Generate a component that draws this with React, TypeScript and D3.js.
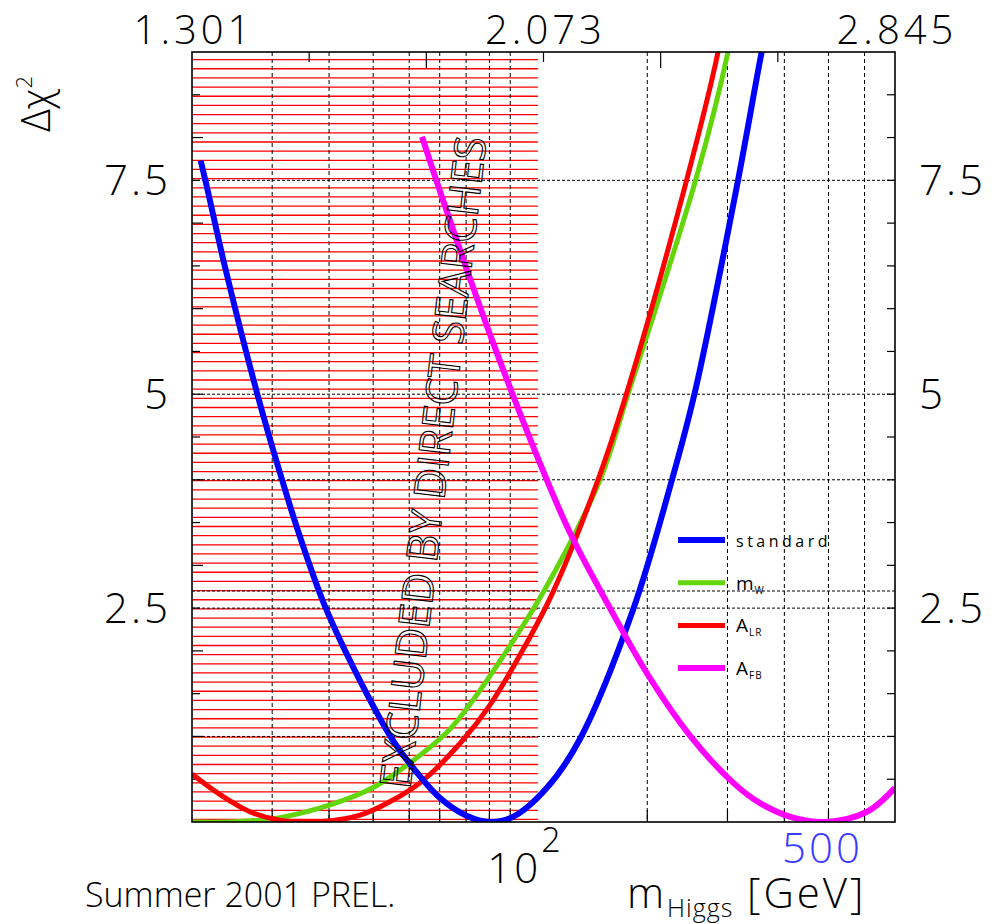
import React, { useEffect, useRef } from "react";
import * as d3 from "d3";

// Higgs mass fits, summer 2001
const stdMass = [20.9, 21.7, 23.6, 27.9, 31.7, 34.5, 39.2, 46.8, 55.3, 60.2, 70.1, 80.4, 90.3, 101.4, 120.4, 142.3, 186.1, 226.6, 254.6, 313.3, 353.7, 372.0];
const stdChi2 = [7.73, 7.36, 6.50, 4.98, 3.96, 3.34, 2.52, 1.65, 0.95, 0.68, 0.28, 0.07, 0.0, 0.06, 0.40, 0.97, 2.48, 4.0, 5.03, 7.38, 8.9, 9.5];

const mwMass = [20.0, 24.2, 28.2, 31.2, 40.2, 49.9, 60.2, 72.6, 79.6, 94.9, 119.2, 157.5, 181.4, 255.9, 300.8, 320.0];
const mwChi2 = [0.0, 0.0, 0.02, 0.05, 0.20, 0.40, 0.69, 1.05, 1.30, 1.88, 2.72, 4.0, 5.0, 7.52, 9.0, 9.8];

const alrMass = [20.0, 23.05, 26.8, 31.2, 35.4, 41.2, 48.0, 63.4, 77.6, 90.3, 108.9, 124.2, 155.9, 178.7, 242.0, 286.0, 305.0];
const alrChi2 = [0.56, 0.32, 0.12, 0.02, 0.0, 0.02, 0.10, 0.46, 0.92, 1.37, 2.10, 2.69, 4.0, 4.95, 7.43, 9.0, 9.9];

const afbMass = [64.0, 69.1, 80.4, 91.7, 116.3, 135.3, 165.6, 202.8, 248.2, 308.6, 353.7, 417.9, 493.7, 607.6, 700.0];
const afbChi2 = [8.01, 7.47, 6.45, 5.60, 4.19, 3.38, 2.50, 1.68, 1.01, 0.46, 0.22, 0.05, 0.0, 0.12, 0.40];

const excludedLimit = 115; // GeV, direct searches
const gridChi2 = [1, 2.5, 2.7, 4, 5, 7.5];
const yTickLabels = ["2.5", "5", "7.5"];
const gridMass = [30, 40, 50, 60, 70, 80, 90, 100, 200, 300, 400, 500, 600];
const topTickLabels = ["1.301", "2.073", "2.845"];

const legendNames = [["standard", ""], ["m", "W"], ["A", "LR"], ["A", "FB"]];
const colors = ["#0000ff", "#62d60a", "#ff0000", "#ff00ff"];
const widths = [6, 5, 5, 6];

const FONT = "'Open Sans', 'Liberation Sans', sans-serif";

export default function App() {
  const ref = useRef<SVGSVGElement>(null);

  useEffect(() => {
    const svg = d3.select(ref.current);
    svg.selectAll("*").remove();

    const left = 192, right = 895, top = 52, bottom = 822;
    const x = d3.scaleLog().domain([20, 700]).range([left, right]);
    const y = d3.scaleLinear().domain([0, 9]).range([bottom, top]);
    const lo = Math.log10(20), hi = Math.log10(700);
    const xTop = d3.scaleLinear().domain([lo, hi]).range([left, right]);

    svg.append("defs").append("clipPath").attr("id", "plotclip")
      .append("rect").attr("x", left).attr("y", top)
      .attr("width", right - left).attr("height", bottom - top);

    // excluded region, red hatching
    svg.append("g").selectAll("line")
      .data(d3.range(0.03, 8.95, 0.107))
      .join("line")
      .attr("x1", left).attr("x2", x(excludedLimit))
      .attr("y1", d => y(d)).attr("y2", d => y(d))
      .attr("stroke", "#ff0000").attr("stroke-width", 1.3);

    // grid
    svg.append("g").selectAll("line")
      .data(gridChi2).join("line")
      .attr("x1", left).attr("x2", right)
      .attr("y1", d => y(d)).attr("y2", d => y(d))
      .attr("stroke", "#000").attr("stroke-width", 1)
      .attr("stroke-dasharray", "3,2");

    svg.append("g").selectAll("line")
      .data(gridMass).join("line")
      .attr("x1", d => x(d)).attr("x2", d => x(d))
      .attr("y1", top).attr("y2", bottom)
      .attr("stroke", "#000").attr("stroke-width", 1)
      .attr("stroke-dasharray", "4,3");

    // bottom ticks (solid)
    svg.append("g").selectAll("line")
      .data(gridMass).join("line")
      .attr("x1", d => x(d)).attr("x2", d => x(d))
      .attr("y1", bottom).attr("y2", bottom - 12)
      .attr("stroke", "#000").attr("stroke-width", 1.2);

    // side ticks every 0.5
    const half = d3.range(0.5, 9, 0.5);
    svg.append("g").selectAll("line")
      .data(half).join("line")
      .attr("x1", left).attr("x2", d => left + (d % 1 === 0 ? 11 : 8))
      .attr("y1", d => y(d)).attr("y2", d => y(d))
      .attr("stroke", "#000").attr("stroke-width", 1.2);
    svg.append("g").selectAll("line")
      .data(half).join("line")
      .attr("x1", right).attr("x2", right - 8)
      .attr("y1", d => y(d)).attr("y2", d => y(d))
      .attr("stroke", "#000").attr("stroke-width", 1.2);

    // top ticks, log10 scale
    svg.append("g").selectAll("line")
      .data(d3.range(1, 6)).join("line")
      .attr("x1", i => xTop(lo + i * (hi - lo) / 6))
      .attr("x2", i => xTop(lo + i * (hi - lo) / 6))
      .attr("y1", top).attr("y2", i => top + (i % 2 === 0 ? 16 : 10))
      .attr("stroke", "#000").attr("stroke-width", 1.2);

    // curves
    const series = [
      [stdMass, stdChi2],
      [mwMass, mwChi2],
      [alrMass, alrChi2],
      [afbMass, afbChi2],
    ];
    const line = d3.line<[number, number]>()
      .x(d => x(d[0])).y(d => y(d[1]))
      .curve(d3.curveCatmullRom.alpha(0.5));
    const curves = svg.append("g").attr("clip-path", "url(#plotclip)");
    // draw order: green, red, blue, magenta
    [1, 2, 0, 3].forEach(i => {
      const pts = series[i][0].map((m, k) => [m, series[i][1][k]] as [number, number]);
      curves.append("path")
        .attr("d", line(pts))
        .attr("fill", "none")
        .attr("stroke", colors[i])
        .attr("stroke-width", widths[i])
        .attr("stroke-linejoin", "round");
    });

    // excluded label, outlined and tilted
    svg.append("text")
      .attr("transform", "translate(410,790) rotate(-83.3)")
      .attr("font-family", FONT)
      .attr("font-size", 43)
      .attr("textLength", 656)
      .attr("lengthAdjust", "spacingAndGlyphs")
      .attr("fill", "none").attr("stroke", "#000").attr("stroke-width", 1.1)
      .text("EXCLUDED BY DIRECT SEARCHES");

    // frame
    svg.append("rect")
      .attr("x", left).attr("y", top)
      .attr("width", right - left).attr("height", bottom - top)
      .attr("fill", "none").attr("stroke", "#000").attr("stroke-width", 1.6);

    // legend
    const lg = svg.append("g");
    legendNames.forEach((nm, i) => {
      const ly = 540 + i * 42.7;
      lg.append("line")
        .attr("x1", 678).attr("x2", 725).attr("y1", ly).attr("y2", ly)
        .attr("stroke", colors[i]).attr("stroke-width", widths[i]);
      const t = lg.append("text")
        .attr("x", 736).attr("y", ly + 7)
        .attr("font-family", FONT).attr("font-size", 16).attr("fill", "#000")
        .attr("letter-spacing", nm[1] ? 1 : 3.5);
      t.append("tspan").attr("font-size", nm[1] ? 19 : 16).text(nm[0]);
      if (nm[1]) t.append("tspan").attr("font-size", 10).attr("dy", 4).text(nm[1]);
    });

    const big = 42;
    const labelText = (sel: any, size = big) => sel
      .attr("font-family", FONT).attr("font-size", size).attr("font-weight", 300)
      .attr("letter-spacing", 3);

    // top labels
    svg.append("g").selectAll("text")
      .data(topTickLabels).join("text")
      .attr("x", d => xTop(+d) + 2).attr("y", 44)
      .attr("text-anchor", "middle")
      .call(labelText, 40)
      .attr("letter-spacing", 4)
      .text(d => d);

    // y labels, both sides
    svg.append("g").selectAll("text")
      .data(yTickLabels).join("text")
      .attr("x", 171).attr("y", d => y(+d) + 15)
      .attr("text-anchor", "end")
      .call(labelText)
      .text(d => d);
    svg.append("g").selectAll("text")
      .data(yTickLabels).join("text")
      .attr("x", 919).attr("y", d => y(+d) + 15)
      .attr("text-anchor", "start")
      .call(labelText)
      .text(d => d);

    // y title
    const yt = svg.append("text")
      .attr("transform", "translate(50,132) rotate(-90)")
      .attr("font-family", FONT).attr("font-size", 40).attr("font-weight", 300);
    yt.append("tspan").text("\u0394\u03c7");
    yt.append("tspan").attr("font-size", 22).attr("dy", -18).text("2");

    // x labels
    const t10 = svg.append("text")
      .attr("x", x(100) - 23).attr("y", 883)
      .call(labelText);
    t10.append("tspan").text("10");
    t10.append("tspan").attr("font-size", 34).attr("dy", -31).attr("letter-spacing", 0).text("2");

    svg.append("text")
      .attr("x", x(500) - 6).attr("y", 863)
      .attr("text-anchor", "middle")
      .call(labelText)
      .attr("fill", "#3c3cff")
      .text("500");

    const xt = svg.append("text")
      .attr("x", 627).attr("y", 908)
      .call(labelText);
    xt.append("tspan").text("m");
    xt.append("tspan").attr("font-size", 25).attr("letter-spacing", 1).attr("dy", 9).text("Higgs");
    xt.append("tspan").attr("x", 747).attr("dy", -9).text("[GeV]");

    svg.append("text")
      .attr("x", 85).attr("y", 907)
      .attr("font-family", FONT).attr("font-size", 34).attr("font-weight", 300)
      .text("Summer 2001 PREL.");
  }, []);

  return (
    <svg ref={ref} width={1003} height={924}
      style={{ position: "absolute", left: 0, top: 0, background: "#fff" }} />
  );
}
